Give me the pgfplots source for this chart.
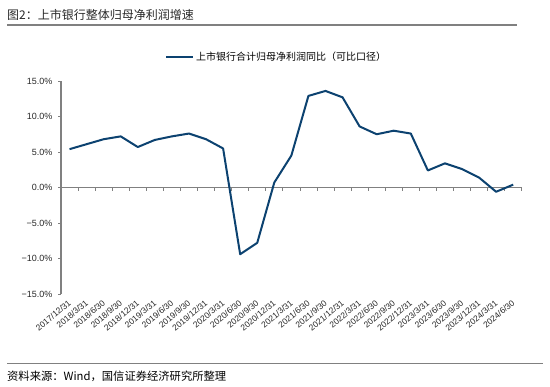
\documentclass[border=0pt]{standalone}
\usepackage{fontspec}
\setmainfont{Liberation Sans}
\newfontfamily\cjk{Noto Sans CJK SC}
\usepackage{pgfplots}
\pgfplotsset{compat=1.18}
\definecolor{linecol}{RGB}{12,66,112}
\definecolor{axgray}{RGB}{128,128,128}
\definecolor{txt}{RGB}{40,40,40}
\begin{document}
\begin{tikzpicture}[x=1bp,y=1bp]
\path[use as bounding box] (0,0) rectangle (550,386);
\node[anchor=west,inner sep=0pt,text=txt,font=\cjk\fontsize{12bp}{14bp}\selectfont] at (7,371) {图2：上市银行整体归母净利润增速};
\draw[axgray,line width=1.5bp] (7,361) -- (517,361);
\draw[axgray,line width=0.9bp] (7,23) -- (543,23);
\node[anchor=west,inner sep=0pt,text=black,font=\cjk\fontsize{11.3bp}{13bp}\selectfont] at (7,10) {资料来源：Wind，国信证券经济研究所整理};
\begin{axis}[
  at={(61bp,92bp)}, anchor=south west,
  width=460.7bp, height=213bp, scale only axis,
  xmin=-0.5, xmax=26.5, ymin=-15, ymax=15,
  axis x line=bottom, axis y line=left,
  axis line style={-, draw=axgray},
  x axis line style={draw=none},
  y axis line style={line width=1.3bp},
  xtick={0,...,26},
  xticklabels={2017/12/31,2018/3/31,2018/6/30,2018/9/30,2018/12/31,2019/3/31,2019/6/30,2019/9/30,2019/12/31,2020/3/31,2020/6/30,2020/9/30,2020/12/31,2021/3/31,2021/6/30,2021/9/30,2021/12/31,2022/3/31,2022/6/30,2022/9/30,2022/12/31,2023/3/31,2023/6/30,2023/9/30,2023/12/31,2024/3/31,2024/6/30},
  major x tick style={draw=none},
  tick align=outside,
  major tick length=3bp,
  xticklabel style={yshift=-4bp, xshift=1bp, rotate=40, anchor=east, font=\fontsize{8.5bp}{10bp}\selectfont, text=txt, inner sep=1pt},
  ytick={-15,-10,-5,0,5,10,15},
  yticklabels={−15.0\%,−10.0\%,−5.0\%,0.0\%,5.0\%,10.0\%,15.0\%},
  major y tick style={draw=axgray, line width=0.8bp},
  yticklabel style={font=\fontsize{9bp}{10bp}\selectfont, text=txt, xshift=-2bp},
  legend style={at={(0.2257,1.1127)}, anchor=west, draw=none, fill=none, inner sep=0pt,
    font=\cjk\fontsize{10bp}{12bp}\selectfont, text=black},
  legend cell align=left,
  legend image code/.code={\draw[#1] (0bp,0bp) -- (27bp,0bp);},
  clip=false,
]
% zero line and its small category ticks
\addplot[axgray, line width=0.9bp, forget plot] coordinates {(-0.5,0) (26.5,0)};
\addplot[ycomb, axgray, line width=0.7bp, no marks, forget plot] coordinates {
(-0.5,-0.45) (0.5,-0.45) (1.5,-0.45) (2.5,-0.45) (3.5,-0.45) (4.5,-0.45) (5.5,-0.45) (6.5,-0.45) (7.5,-0.45) (8.5,-0.45)
(9.5,-0.45) (10.5,-0.45) (11.5,-0.45) (12.5,-0.45) (13.5,-0.45) (14.5,-0.45) (15.5,-0.45) (16.5,-0.45) (17.5,-0.45) (18.5,-0.45)
(19.5,-0.45) (20.5,-0.45) (21.5,-0.45) (22.5,-0.45) (23.5,-0.45) (24.5,-0.45) (25.5,-0.45) (26.5,-0.45)
};
\addplot[color=linecol, line width=2bp, line join=round] coordinates {
(0,5.4) (1,6.1) (2,6.8) (3,7.2) (4,5.7) (5,6.7) (6,7.2) (7,7.6) (8,6.8) (9,5.5)
(10,-9.4) (11,-7.8) (12,0.7) (13,4.5) (14,12.9) (15,13.6) (16,12.7) (17,8.6) (18,7.5) (19,8.0)
(20,7.6) (21,2.4) (22,3.4) (23,2.6) (24,1.4) (25,-0.6) (26,0.4)
};
\addlegendentry{上市银行合计归母净利润同比（可比口径）}
\end{axis}
\end{tikzpicture}
\end{document}
